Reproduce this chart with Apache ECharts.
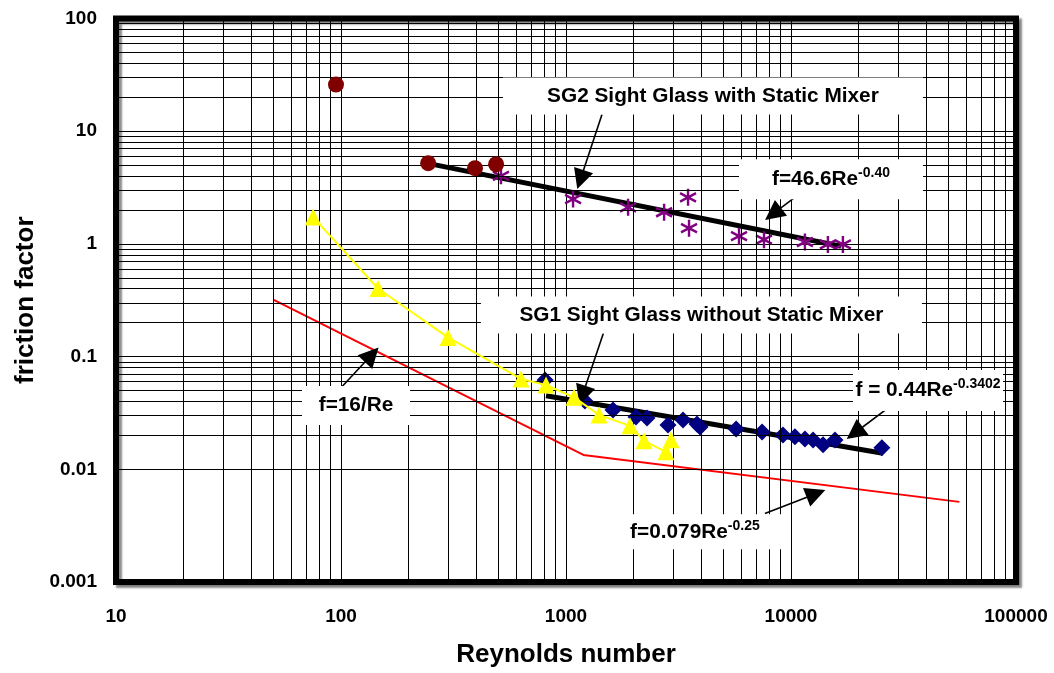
<!DOCTYPE html>
<html><head><meta charset="utf-8">
<script src="https://cdn.jsdelivr.net/npm/echarts@6/dist/echarts.min.js"></script>
<style>html,body{margin:0;padding:0;background:#fff}#c{width:1054px;height:673px}</style>
</head><body><div id="c"></div>
<script>
// ---- axis ticks / grid values ----
const xTicks = [10, 100, 1000, 10000, 100000];
const yTicks = [0.001, 0.01, 0.1, 1, 10, 100];
const xMinorGrid = [20,30,40,50,60,70,80,90,200,300,400,500,600,700,800,900,2000,3000,4000,5000,6000,7000,8000,9000,20000,30000,40000,50000,60000,70000,80000,90000];
const yMinorGrid = [0.002,0.003,0.004,0.005,0.006,0.007,0.008,0.009,0.02,0.03,0.04,0.05,0.06,0.07,0.08,0.09,0.2,0.3,0.4,0.5,0.6,0.7,0.8,0.9,2,3,4,5,6,7,8,9,20,30,40,50,60,70,80,90];

// ---- series data ----
const circRe = [95, 244, 394, 489];
const circF  = [25.9, 5.2, 4.7, 5.09];
const sg2Re = [514, 1075, 1888, 2729, 3487, 3522, 5875, 7586, 11530, 14590, 17010];
const sg2F  = [4.02, 2.50, 2.11, 1.91, 2.59, 1.38, 1.17, 1.09, 1.04, 0.99, 0.99];
const yelRe = [75.2, 146, 299, 631, 815, 1086, 1403, 1925, 2221, 2782, 2929];
const yelF  = [1.73, 0.402, 0.148, 0.0633, 0.056, 0.0435, 0.0304, 0.0243, 0.0179, 0.0143, 0.0183];
const sg1Re = [807, 1213, 1618, 2047, 2291, 2840, 3311, 3822, 3944, 5702, 7436, 9209, 10410, 11530, 12530, 13880, 15690, 25350];
const sg1F  = [0.0619, 0.0404, 0.0336, 0.0291, 0.0285, 0.0247, 0.0274, 0.0252, 0.0237, 0.0228, 0.0214, 0.0202, 0.0194, 0.0186, 0.0182, 0.0165, 0.0182, 0.0155];
const theoryRe = [50, 1195, 56000];
const theoryF  = [0.32, 0.0134, 0.00514];
const fit2Re = [259, 16700];
const fit2F  = [5.05, 0.954];
const fit1Re = [815, 25600];
const fit1F  = [0.045, 0.0139];

// ---- annotations (data coordinates) ----
const noteTexts = ['{m|SG2 Sight Glass with Static Mixer}', '{m|f=46.6Re}{s|-0.40}', '{m|SG1 Sight Glass without Static Mixer}', '{m|f = 0.44Re}{s|-0.3402}', '{m|f=16/Re}', '{m|f=0.079Re}{s|-0.25}'];
const noteRe = [4498, 15060, 3999, 40640, 116.6, 3741];
const noteF  = [20.5, 3.755, 0.2344, 0.050, 0.0369, 0.00279];
const arrowFrom = [[1445, 14.06], [11750, 3.11], [1466, 0.161], [27040, 0.0351], [99.7, 0.0526], [7656, 0.00406]];
const arrowTo   = [[1159, 3.72], [8318, 1.845], [1183, 0.0453], [19190, 0.0210], [137, 0.1038], [12910, 0.00608]];

const noteBox = [[420,37],[184,40],[441,37],[150,41],[108,39],[184,35]];

const zip = (a, b) => a.map((v, i) => [v, b[i]]);
const FONT = 'Liberation Sans, Arial, sans-serif';

const chart = echarts.init(document.getElementById('c'), null, {renderer: 'canvas'});
const axisCommon = {
  type: 'log', logBase: 10,
  axisLine: {show: false}, axisTick: {show: false},
  splitLine: {show: true, lineStyle: {color: '#000', width: 1}},
  minorTick: {show: false}, minorSplitLine: {show: false},
  axisLabel: {color: '#000', fontWeight: 'bold', fontSize: 19, fontFamily: FONT, formatter: v => String(v)},
  nameTextStyle: {color: '#000', fontWeight: 'bold', fontSize: 26, fontFamily: FONT}
};
chart.setOption({
  animation: false,
  backgroundColor: '#fff',
  grid: {left: 116, right: 38, top: 18.5, bottom: 88, show: true, backgroundColor: '#fff',
         borderColor: '#000', borderWidth: 6,
         shadowColor: 'rgba(0,0,0,0.45)', shadowBlur: 2, shadowOffsetX: 3, shadowOffsetY: 3},
  xAxis: Object.assign({}, axisCommon, {min: xTicks[0], max: xTicks[xTicks.length-1],
    name: 'Reynolds number', nameLocation: 'middle', nameGap: 60,
    axisLabel: Object.assign({}, axisCommon.axisLabel, {margin: 25})}),
  yAxis: Object.assign({}, axisCommon, {min: yTicks[0], max: yTicks[yTicks.length-1],
    name: 'friction factor', nameLocation: 'middle', nameGap: 76,
    axisLabel: Object.assign({}, axisCommon.axisLabel, {margin: 19})}),
  series: [
    { // minor grid lines
      type: 'line', data: [], z: 1, silent: true,
      markLine: {silent: true, symbol: 'none', animation: false, label: {show: false},
        lineStyle: {color: '#000', width: 1, type: 'solid'}, emphasis: {disabled: true},
        data: xMinorGrid.map(v => ({xAxis: v})).concat(yMinorGrid.map(v => ({yAxis: v})))}
    },
    {type: 'line', name: 'theory', data: zip(theoryRe, theoryF), symbol: 'none', z: 3,
     lineStyle: {color: '#FF0000', width: 2}},
    {type: 'line', name: 'fit2', data: zip(fit2Re, fit2F), symbol: 'none', z: 3,
     lineStyle: {color: '#000', width: 5}},
    {type: 'line', name: 'fit1', data: zip(fit1Re, fit1F), symbol: 'none', z: 3,
     lineStyle: {color: '#000', width: 5}},
    {type: 'scatter', name: 'SG1', data: zip(sg1Re, sg1F), symbol: 'diamond', symbolSize: 17, z: 4,
     itemStyle: {color: '#000080', opacity: 1}},
    {type: 'scatter', name: 'SG2', data: zip(sg2Re, sg2F), z: 4,
     symbol: 'path://M8,0L8,16M1,4L15,12M1,12L15,4', symbolSize: [16, 17],
     itemStyle: {color: 'transparent', borderColor: '#800080', borderWidth: 2.5, opacity: 1}},
    {type: 'line', name: 'yellow', data: zip(yelRe, yelF), symbol: 'triangle', symbolSize: 17, z: 5,
     showSymbol: true, itemStyle: {color: '#FFFF00'}, lineStyle: {color: '#FFFF00', width: 2}},
    {type: 'scatter', name: 'circ', data: zip(circRe, circF), symbol: 'circle', symbolSize: 16, z: 5,
     itemStyle: {color: '#800000', opacity: 1}},
    { // annotations
      type: 'line', data: [], z: 10, silent: true,
      markPoint: {silent: true, animation: false,
        data: noteTexts.map((t, i) => ({coord: [noteRe[i], noteF[i]], symbol: 'rect', symbolSize: noteBox[i],
          itemStyle: {color: '#fff'},
          label: {show: true, position: 'inside', formatter: t, color: '#000',
            rich: {m: {fontSize: 20.8, fontWeight: 'bold', fontFamily: FONT, color: '#000', lineHeight: 26},
                   s: {fontSize: 14, fontWeight: 'bold', fontFamily: FONT, color: '#000', verticalAlign: 'top', lineHeight: 10}}}}))},
      markLine: {silent: true, animation: false, symbol: ['none', 'triangle'], symbolSize: 20,
        label: {show: false}, emphasis: {disabled: true},
        lineStyle: {color: '#000', width: 1.6, type: 'solid'},
        data: arrowFrom.map((p, i) => [{coord: p}, {coord: arrowTo[i]}])}
    }
  ]
});
</script></body></html>
